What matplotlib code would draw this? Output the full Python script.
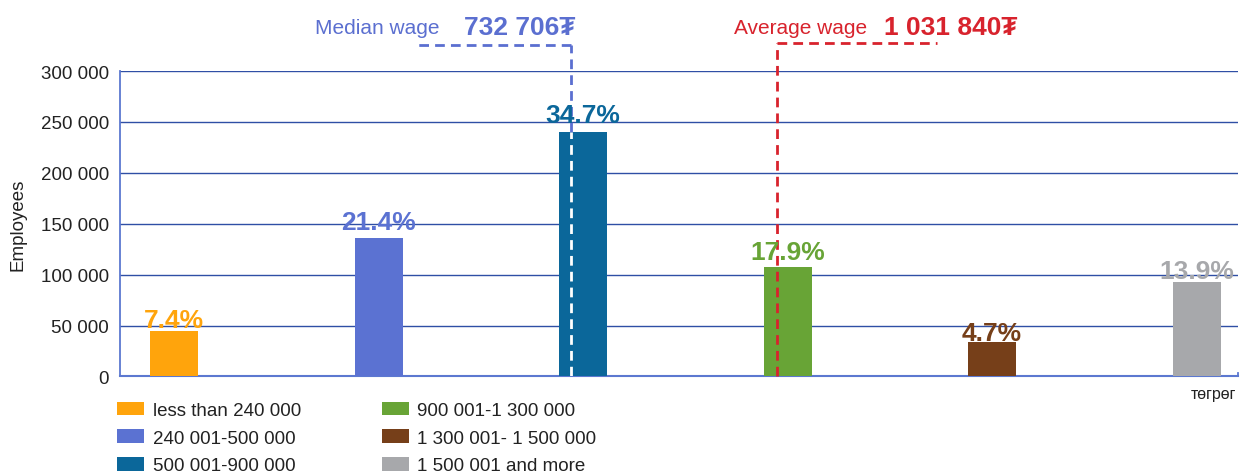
import numpy as np
import matplotlib
matplotlib.use("Agg")
import matplotlib.pyplot as plt
from matplotlib.ticker import FuncFormatter

plt.rcParams['font.family'] = ['Liberation Sans', 'DejaVu Sans']

# data
groups = ["less than 240 000", "240 001-500 000", "500 001-900 000",
          "900 001-1 300 000", "1 300 001- 1 500 000", "1 500 001 and more"]
employees = [45000, 135800, 240000, 107600, 33500, 92400]
shares = ["7.4%", "21.4%", "34.7%", "17.9%", "4.7%", "13.9%"]
colors = ["#FFA40C", "#5B72D2", "#0B679A", "#68A436", "#763F19", "#A7A8AB"]
label_pad = [2.5, 7, 7, 5.5, 1.5, 3]  # gap between bar top and label, points

median_wage = "732 706\u20ae"
average_wage = "1 031 840\u20ae"
median_x = 1.94
average_x = 2.95

grid_col = "#2f4fa5"
axis_col = "#5c78d0"
med_col = "#5b6fd0"
avg_col = "#d8232d"

fig = plt.figure(figsize=(12.4, 4.77), dpi=100)
ax = fig.add_axes([0.0968, 0.2086, 0.9012, 0.6414])

x = np.arange(len(groups))
bars = ax.bar(x, employees, width=0.235, color=colors, zorder=3, label=groups)
bar_handles = list(bars)

for xi, v, s, c, pad in zip(x, employees, shares, colors, label_pad):
    ax.annotate(s, (xi, v), xytext=(0, pad), textcoords="offset points",
                ha="center", va="baseline", fontsize=19, fontweight="bold",
                color=c, zorder=5)

ax.set_xlim(-0.264, 5.2)
ax.set_ylim(0, 300500)
ax.set_yticks(np.arange(0, 300001, 50000))
ax.yaxis.set_major_formatter(FuncFormatter(lambda v, p: "{:,}".format(int(v)).replace(",", " ")))
ax.set_xticks([])
ax.tick_params(axis="y", length=0, labelsize=13.5, pad=8, labelcolor="#222222")
ax.grid(axis="y", color=grid_col, linewidth=1.0, zorder=1)
for side in ["top", "right"]:
    ax.spines[side].set_visible(False)
ax.spines["left"].set_color(axis_col)
ax.spines["bottom"].set_color(axis_col)
ax.spines["left"].set_linewidth(1.3)
ax.spines["bottom"].set_linewidth(1.5)
ax.set_ylabel("Employees", fontsize=13.5, labelpad=10, color="#222222")

# small end tick at right of x axis
ax.plot([5.2, 5.2], [0, 3000], color=axis_col, lw=1.3, clip_on=False, zorder=4)
ax.text(5.195, -9000, "төгрөг", ha="right", va="top", fontsize=11.5, color="#222222")

# median line: blue above bar, white inside bar
med_bar = employees[2]
dash = (0, (3.5, 2.2))
ax.plot([median_x, median_x], [med_bar, 325500], color=med_col, lw=2,
        linestyle=dash, clip_on=False, zorder=4)
ax.plot([median_x, median_x], [0, med_bar], color="white", lw=2,
        linestyle=dash, zorder=4)
ax.plot([median_x, 1.17], [325500, 325500], color=med_col, lw=2,
        linestyle=dash, clip_on=False, zorder=4)
ax.text(1.30, 342500, "Median wage", ha="right", va="center", fontsize=15, color=med_col)
ax.text(1.42, 343500, median_wage, ha="left", va="center", fontsize=19,
        fontweight="bold", color=med_col)

# average line
ax.plot([average_x, average_x], [0, 327500], color=avg_col, lw=2,
        linestyle=dash, clip_on=False, zorder=4)
ax.plot([average_x, 3.73], [327500, 327500], color=avg_col, lw=2,
        linestyle=dash, clip_on=False, zorder=4)
ax.text(3.39, 342500, "Average wage", ha="right", va="center", fontsize=15, color=avg_col)
ax.text(3.47, 343500, average_wage, ha="left", va="center", fontsize=19,
        fontweight="bold", color=avg_col)

fig.legend(bar_handles, groups, loc="upper left", bbox_to_anchor=(0.0945, 0.156),
           ncol=2, frameon=False, fontsize=13.5, handlelength=1.45, handleheight=0.75,
           handletextpad=0.45, columnspacing=4.3, labelspacing=0.55,
           labelcolor="#222222", borderpad=0, borderaxespad=0)

fig.savefig("out.png", dpi=100)
